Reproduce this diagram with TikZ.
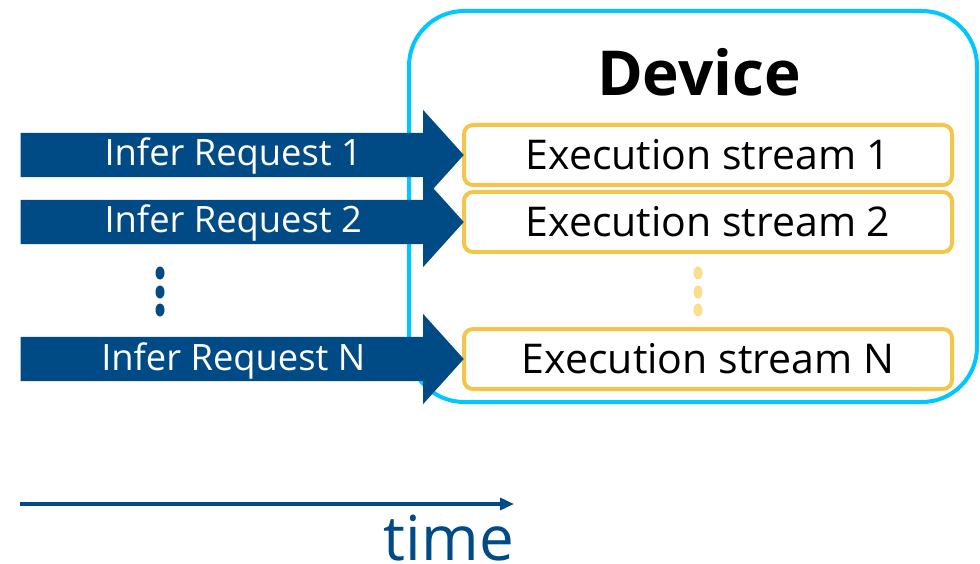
\documentclass[tikz,border=0pt]{standalone}
\usepackage{fontspec}
\setmainfont{Open Sans}
\usetikzlibrary{shapes.arrows}
\usetikzlibrary{arrows.meta}
\usetikzlibrary{positioning}

\definecolor{reqblue}{HTML}{004A86}
\definecolor{devcyan}{HTML}{00C7FD}
\definecolor{streamyellow}{HTML}{F3C64B}
\definecolor{dotyellow}{HTML}{F8DE8E}

\tikzset{
    devbox/.style={draw=devcyan, line width=4pt, rounded corners=55pt,
        minimum width=568pt, minimum height=391pt},
    streambox/.style={draw=streamyellow, line width=4pt, rounded corners=9pt,
        minimum width=488pt, minimum height=60pt, inner sep=0pt,
        font=\fontsize{41}{44}\selectfont},
    request/.style={single arrow, fill=reqblue, text=white,
        single arrow head extend=23pt, single arrow tip angle=96,
        minimum height=443pt,
        inner xsep=0pt, inner ysep=0pt, text height=33pt, text depth=11pt,
        font=\fontsize{36.3}{38}\selectfont, anchor=tip},
    bluedot/.style={fill=reqblue},
    yellowdot/.style={fill=dotyellow},
}

\begin{document}
\begin{tikzpicture}[x=1pt, y=-1pt]
    \useasboundingbox (0,0) rectangle (980,564);

    %% device with its streams
    \node[devbox] (device) at (693,206.5) {};
    \node[font=\fontsize{62}{66}\selectfont\bfseries] (devlabel) at (699,72) {Device};

    \node[streambox] (s1) at (708,155) {Execution stream 1};
    \node[streambox] (s2) at (708,222) {Execution stream 2};
    \node[streambox] (sN) at (708,359) {Execution stream N};

    %% requests going into the streams
    \node[request] (r1) at ([xshift=2pt]s1.west) {\hspace*{2pt}Infer Request 1};
    \node[request] (r2) at ([xshift=2pt]s2.west) {\hspace*{2pt}Infer Request 2};
    \node[request] (rN) at ([xshift=2pt]sN.west) {\hspace*{2pt}Infer Request N};

    %% vertical dots
    \foreach \y in {273,292,310} {
        \fill[bluedot] (160,\y) ellipse (4.5pt and 6.5pt);
        \fill[yellowdot] (698,\y) ellipse (4.5pt and 6.5pt);
    }

    %% time axis
    \coordinate (tstart) at (20,504);
    \coordinate (tend) at (514,504);
    \draw[reqblue, line width=4pt, -{Triangle[length=14pt, width=12pt]}] (tstart) -- (tend);
    \node[text=reqblue, font=\fontsize{62}{64}\selectfont, anchor=base east,
        inner sep=0pt] (tlabel) at (514,560) {time};
\end{tikzpicture}
\end{document}
